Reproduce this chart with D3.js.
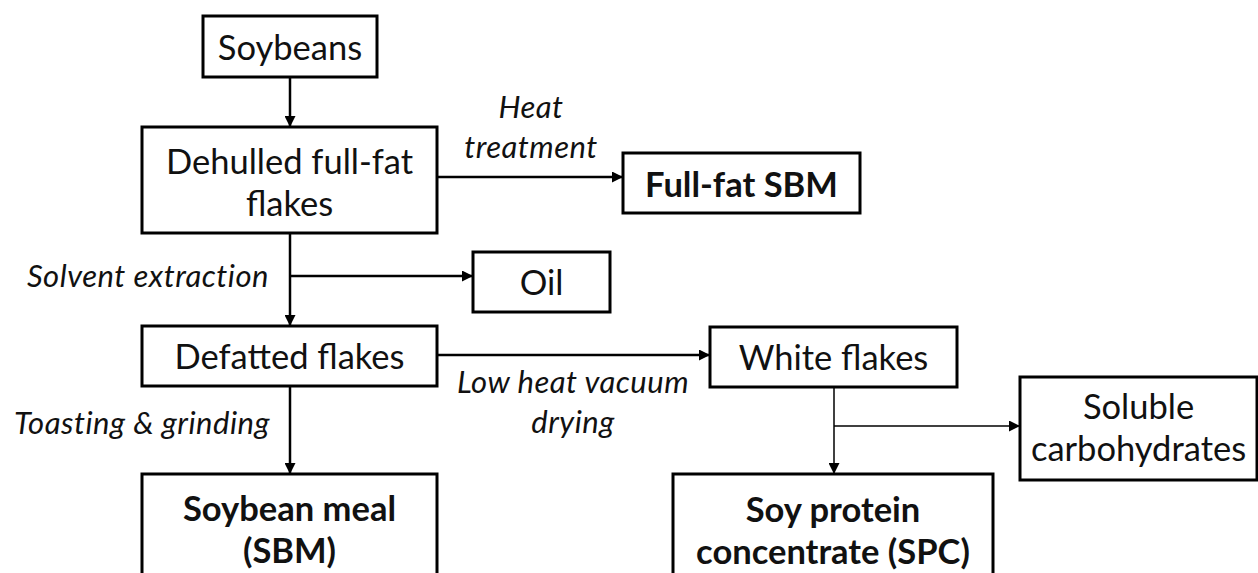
<!DOCTYPE html>
<html>
<head>
<meta charset="utf-8">
<script src="https://cdn.jsdelivr.net/npm/d3@7"></script>
<style>
  body { margin: 0; background: #fff; }
  text { font-family: Lato, "Open Sans", sans-serif; fill: #111; }
</style>
</head>
<body>
<script>
// process steps (labels), one line per array entry
const nodeIds = ['soy', 'dehull', 'ffsbm', 'oil', 'defat', 'white', 'soluble', 'sbm', 'spc'];
const nodeLabels = [
  ['Soybeans'],
  ['Dehulled full-fat', 'flakes'],
  ['Full-fat SBM'],
  ['Oil'],
  ['Defatted flakes'],
  ['White flakes'],
  ['Soluble', 'carbohydrates'],
  ['Soybean meal', '(SBM)'],
  ['Soy protein', 'concentrate (SPC)'],
];
const productNodes = ['ffsbm', 'sbm', 'spc']; // bold end products

// links: [from, to]
const links = [
  ['soy', 'dehull'],
  ['dehull', 'ffsbm'],
  ['dehull', 'defat'],
  ['dehull', 'oil'],
  ['defat', 'white'],
  ['defat', 'sbm'],
  ['white', 'spc'],
  ['white', 'soluble'],
];
const linkLabels = [
  [],
  ['Heat', 'treatment'],
  [],
  ['Solvent extraction'],
  ['Low heat vacuum', 'drying'],
  ['Toasting & grinding'],
  [],
  [],
];

// ---- layout (pixels) ----
const width = 1258, height = 573;
const box = {
  soy:     { x0: 203, x1: 377, y0: 16,  y1: 77 },
  dehull:  { x0: 142, x1: 437, y0: 127, y1: 233 },
  ffsbm:   { x0: 623, x1: 860, y0: 153, y1: 213 },
  oil:     { x0: 473, x1: 610, y0: 252, y1: 312 },
  defat:   { x0: 142, x1: 437, y0: 326, y1: 386 },
  white:   { x0: 710, x1: 957, y0: 327, y1: 387 },
  soluble: { x0: 1020, x1: 1257, y0: 377, y1: 480 },
  sbm:     { x0: 142, x1: 437, y0: 474, y1: 590 },
  spc:     { x0: 673, x1: 993, y0: 474, y1: 590 },
};
// first text line y offset from box top and line spacing
const lineStep = 42;
const firstLine = { soy: 30, dehull: 33, ffsbm: 30, oil: 29, defat: 29, white: 29, soluble: 28, sbm: 33, spc: 34 };

// edge routes: [x1, y1, x2, y2]
const route = {
  'soy-dehull':    [290, 77, 290, 127],
  'dehull-ffsbm':  [437, 177, 623, 177],
  'dehull-defat':  [290, 233, 290, 326],
  'dehull-oil':    [290, 276, 473, 276],
  'defat-white':   [437, 355, 710, 355],
  'defat-sbm':     [290, 386, 290, 474],
  'white-spc':     [834, 387, 834, 474],
  'white-soluble': [834, 426, 1020, 426],
};
const labelPos = {
  'dehull-ffsbm': { x: 531, y: 106, anchor: 'middle' },
  'dehull-oil':   { x: 269, y: 275, anchor: 'end' },
  'defat-white':  { x: 573, y: 381, anchor: 'middle' },
  'defat-sbm':    { x: 270, y: 422, anchor: 'end' },
};

const svg = d3.select('body')
  .append('svg')
  .attr('width', width)
  .attr('height', height);

svg.append('defs').append('marker')
  .attr('id', 'arrow')
  .attr('markerUnits', 'userSpaceOnUse')
  .attr('viewBox', '0 0 10 10')
  .attr('refX', 10)
  .attr('refY', 5)
  .attr('markerWidth', 11)
  .attr('markerHeight', 11)
  .attr('orient', 'auto')
  .append('path')
  .attr('d', 'M0,0L10,5L0,10Z')
  .attr('fill', '#000');

// edges
links.forEach(([a, b], i) => {
  const key = a + '-' + b;
  const [x1, y1, x2, y2] = route[key];
  svg.append('line')
    .attr('x1', x1).attr('y1', y1)
    .attr('x2', x2).attr('y2', y2)
    .attr('stroke', '#000')
    .attr('stroke-width', key.startsWith('white') ? 1.5 : 2.5)
    .attr('marker-end', 'url(#arrow)');

  const lbl = linkLabels[i];
  if (lbl.length) {
    const p = labelPos[key];
    const t = svg.append('text')
      .attr('text-anchor', p.anchor)
      .attr('font-style', 'italic')
      .attr('font-size', 31)
      .attr('letter-spacing', 0.5)
      .attr('dominant-baseline', 'central');
    lbl.forEach((s, j) => {
      t.append('tspan').attr('x', p.x).attr('y', p.y + j * 40).text(s);
    });
  }
});

// boxes
nodeIds.forEach((id, i) => {
  const b = box[id];
  svg.append('rect')
    .attr('x', b.x0).attr('y', b.y0)
    .attr('width', b.x1 - b.x0).attr('height', b.y1 - b.y0)
    .attr('fill', '#fff')
    .attr('stroke', '#000')
    .attr('stroke-width', 3);

  const bold = productNodes.includes(id);
  const t = svg.append('text')
    .attr('text-anchor', 'middle')
    .attr('dominant-baseline', 'central')
    .attr('font-size', bold ? 34.5 : 34.5)
    .attr('font-weight', bold ? 'bold' : 'normal');
  nodeLabels[i].forEach((s, j) => {
    t.append('tspan')
      .attr('x', (b.x0 + b.x1) / 2)
      .attr('y', b.y0 + firstLine[id] + j * lineStep)
      .text(s);
  });
});
</script>
</body>
</html>
